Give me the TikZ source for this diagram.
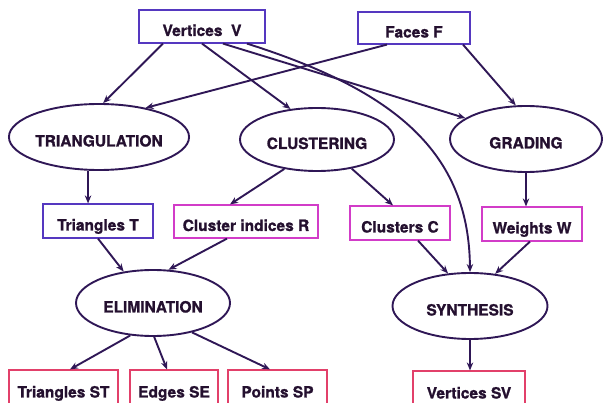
\documentclass[tikz,border=0pt]{standalone}
\usepackage{fontspec}
\setmainfont[BoldFeatures={FakeBold=1.2}]{TeX Gyre Heros}
\usetikzlibrary{shapes.geometric,arrows.meta}
\definecolor{ink}{HTML}{24102F}
\definecolor{edgecol}{HTML}{2F1756}
\definecolor{bluebox}{HTML}{5538C0}
\definecolor{magbox}{HTML}{D23CC8}
\definecolor{redbox}{HTML}{E2406A}
\begin{document}
\begin{tikzpicture}[x=1pt,y=-1pt,
  every node/.style={font=\fontsize{15.5}{17}\selectfont\bfseries, text=ink, text height=19pt, text depth=0pt},
  proc/.style={ellipse, draw=edgecol, line width=1.9pt, inner sep=0pt},
  databox/.style={rectangle, draw=#1, line width=1.2pt, inner sep=0pt},
  arr/.style={draw=edgecol, line width=1.9pt, -{Stealth[length=8pt,width=6.5pt]}}
]
\useasboundingbox (0,0) rectangle (603,403);
\clip (0,0) rectangle (603,403);
% data boxes
\node[databox=bluebox, minimum width=126pt, minimum height=33pt] (V) at (202,26.5) {Vertices\ \ V};
\node[databox=bluebox, minimum width=112pt, minimum height=32pt] (F) at (414,28) {Faces F};
\node[databox=bluebox, minimum width=110pt, minimum height=34pt] (T) at (98,221) {Triangles T};
\node[databox=magbox, minimum width=144pt, minimum height=33pt] (R) at (246,221.5) {Cluster indices R};
\node[databox=magbox, minimum width=100pt, minimum height=34pt] (C) at (400,223) {Clusters C};
\node[databox=magbox, minimum width=100pt, minimum height=34pt] (W) at (532,224) {Weights W};
\node[databox=redbox, minimum width=109pt, minimum height=36pt] (ST) at (63.5,388) {Triangles ST};
\node[databox=redbox, minimum width=88pt, minimum height=36pt] (SE) at (174,388) {Edges SE};
\node[databox=redbox, minimum width=99pt, minimum height=36pt] (SP) at (277.5,388) {Points SP};
\node[databox=redbox, minimum width=112pt, minimum height=36pt] (SV) at (469,389) {Vertices SV};
% processes
\node[proc, minimum width=154pt, minimum height=66pt] (TRI) at (99,137) {TRIANGULATION};
\node[proc, minimum width=154pt, minimum height=63pt] (CLU) at (317,139.5) {CLUSTERING};
\node[proc, minimum width=152pt, minimum height=66pt] (GRA) at (526,139) {GRADING};
\node[proc, minimum width=154pt, minimum height=66pt] (ELI) at (153,303) {ELIMINATION};
\node[proc, minimum width=155pt, minimum height=66pt] (SYN) at (470,306) {SYNTHESIS};
% connectors
\draw[arr] ([xshift=-39pt]V.south) -- (TRI.83);
\draw[arr] (V.south) -- (CLU.131);
\draw[arr] ([xshift=21pt]V.south) -- (GRA.161);
\draw[arr] ([xshift=45pt]V.south) .. controls +(148,47) and +(-1,-120) .. (SYN.90);
\draw[arr] ([xshift=-27pt]F.south) -- (TRI.32);
\draw[arr] ([xshift=49pt]F.south) -- (GRA.107);
\draw[arr] (TRI.-108) -- (TRI.-108 |- T.north);
\draw[arr] (CLU.-138) -- ([xshift=-16pt]R.north);
\draw[arr] (CLU.-40) -- ([xshift=-7pt]C.north);
\draw[arr] (GRA.south) -- (GRA.south |- W.north);
\draw[arr] (T.south) -- (ELI.133);
\draw[arr] ([xshift=-19pt]R.south) -- (ELI.65);
\draw[arr] ([xshift=18pt]C.south) -- (SYN.124);
\draw[arr] ([xshift=-2pt]W.south) -- (SYN.52);
\draw[arr] (ELI.-125) -- ([xshift=6.5pt]ST.north);
\draw[arr] (ELI.-88) -- ([xshift=-7pt]SE.north);
\draw[arr] (ELI.-37) -- ([xshift=-7.5pt]SP.north);
\draw[arr] (SYN.south) -- (SYN.south |- SV.north);
\end{tikzpicture}
\end{document}
